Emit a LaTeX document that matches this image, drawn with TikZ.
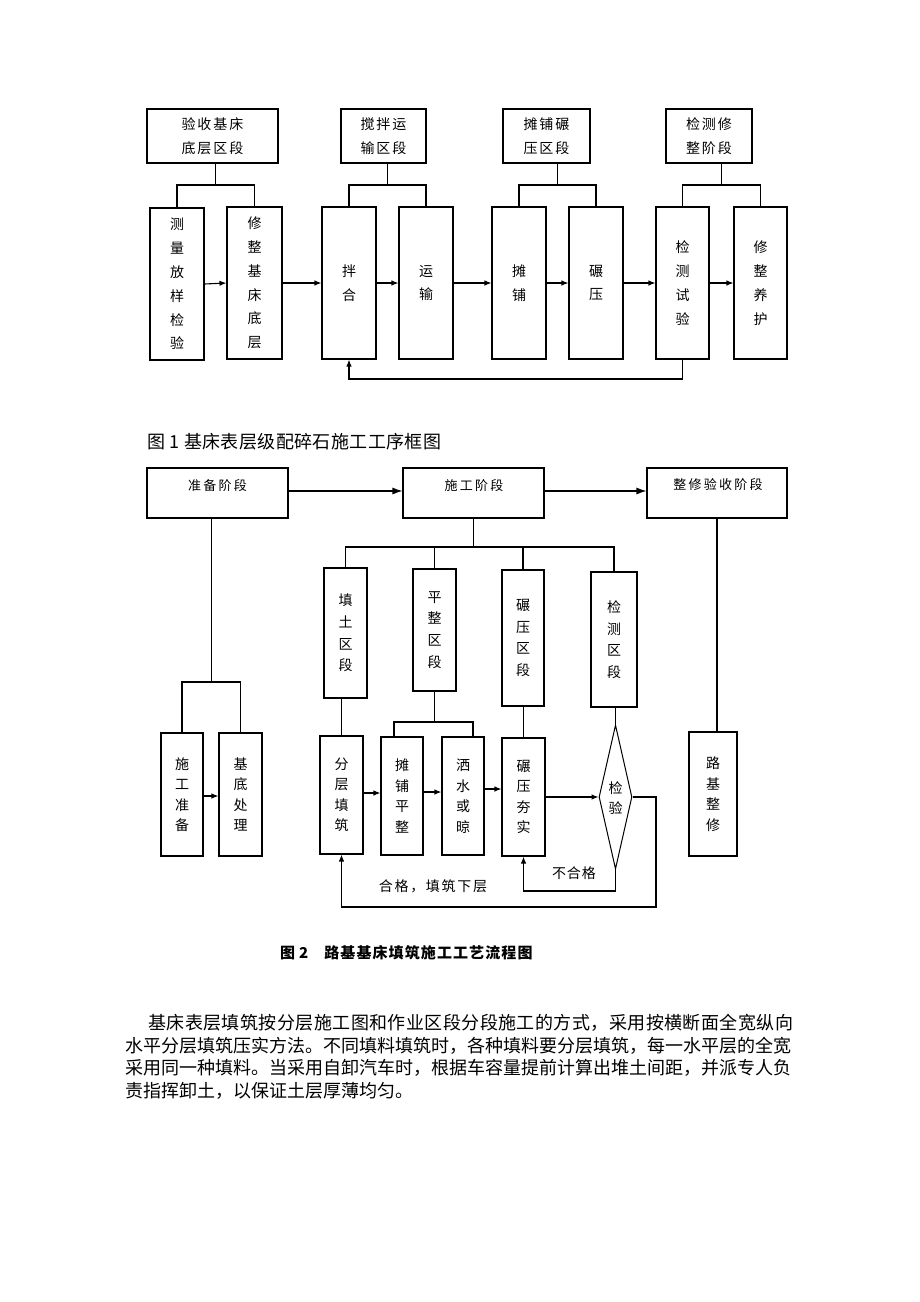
\documentclass[tikz,border=0pt]{standalone}
\usepackage{fontspec}
\setmainfont{Noto Sans CJK SC}
\usetikzlibrary{arrows.meta,calc,shapes.geometric}
\makeatletter
\newcommand\lsp[2]{\def\lsp@s{#1}\lsp@loop#2\@nil}
\def\lsp@loop#1#2\@nil{#1\ifx\relax#2\relax\else\hspace{\lsp@s}\lsp@loop#2\@nil\fi}
\makeatother
\begin{document}
\begin{tikzpicture}[x=1pt,y=-1pt,
  box/.style={draw, line width=1.1pt, inner sep=0pt, rectangle},
  ln/.style={line width=1.1pt},
  arr/.style={line width=1.1pt, -{Latex[length=7pt,width=5.5pt]}},
  arrL/.style={line width=1.1pt, -{Latex[length=10pt,width=7pt]}},
  tA/.style={font=\fontsize{14}{23.8}\selectfont, align=center},
  tE/.style={font=\fontsize{14}{21.7}\selectfont, align=center},
  tF/.style={font=\fontsize{14}{20.5}\selectfont, align=center},
  tH/.style={font=\fontsize{13}{20}\selectfont, inner sep=0pt},
  tL/.style={font=\fontsize{14}{18}\selectfont, inner sep=0pt},
  para/.style={font=\fontsize{18}{22}\selectfont, inner sep=0pt, anchor=west}]
\useasboundingbox (0,0) rectangle (920,1302);
\fill[white] (0,0) rectangle (920,1302);

% ---------------- Figure 1 ----------------
\node[box, tA, minimum width=131, minimum height=54] (A1) at (212.5,136) {\lsp{2pt}{验收基床}\\\lsp{2pt}{底层区段}};
\node[box, tA, minimum width=85, minimum height=54] (A2) at (383.5,136) {\lsp{2pt}{搅拌运}\\\lsp{2pt}{输区段}};
\node[box, tA, minimum width=87, minimum height=54] (A3) at (546.5,136) {\lsp{2pt}{摊铺碾}\\\lsp{2pt}{压区段}};
\node[box, tA, minimum width=86, minimum height=54] (A4) at (709,136) {\lsp{2pt}{检测修}\\\lsp{2pt}{整阶段}};

\node[box, tA, minimum width=54, minimum height=152] (B1) at (177,284) {测\\量\\放\\样\\检\\验};
\node[box, tA, minimum width=55, minimum height=152] (B2) at (254.5,283) {修\\整\\基\\床\\底\\层};
\node[box, tA, minimum width=54, minimum height=152] (B3) at (349,283) {拌\\合};
\node[box, tA, minimum width=54, minimum height=152] (B4) at (426,283) {运\\输};
\node[box, tA, minimum width=54, minimum height=152] (B5) at (519,283) {摊\\铺};
\node[box, tA, minimum width=54, minimum height=152] (B6) at (596,283) {碾\\压};
\node[box, tA, minimum width=53, minimum height=152] (B7) at (682.5,283) {检\\测\\试\\验};
\node[box, tA, minimum width=53, minimum height=152] (B8) at (760.5,283) {修\\整\\养\\护};

\foreach \p/\a/\b in {A1/B1/B2, A2/B3/B4, A3/B5/B6, A4/B7/B8}{
  \coordinate (m\p) at ($(\a.north)!0.5!(\b.north)$);
  \draw[ln] (m\p |- \p.south) -- (m\p |- 0,185);
  \draw[ln] (\a.north) -- (\a.north |- 0,185) -- (\b.north |- 0,185) -- (\b.north);
}
\foreach \a/\b in {B1/B2, B2/B3, B3/B4, B4/B5, B5/B6, B6/B7, B7/B8}{
  \draw[arr] (\a.east) -- (\b.west);
}
\draw[arr] (B7.south) -- (B7.south |- 0,379) -- (B3.south |- 0,379) -- (B3.south);

\node[font=\fontsize{18}{22}\selectfont, inner sep=0pt, anchor=west] (cap1) at (147,442)
  {图\hspace{4pt}1\hspace{5pt}\lsp{0.4pt}{基床表层级配碎石施工工序框图}};

% ---------------- Figure 2 ----------------
\node[box, minimum width=141, minimum height=50] (C1) at (217.5,493) {};
\node[box, minimum width=141, minimum height=50] (C2) at (473.5,493) {};
\node[box, minimum width=140, minimum height=50] (C3) at (717,493) {};
\node[tH] (C1t) at (217.5,486) {\lsp{2.3pt}{准备阶段}};
\node[tH] (C2t) at (474,486) {\lsp{2.3pt}{施工阶段}};
\node[tH] (C3t) at (718,485) {\lsp{2.3pt}{整修验收阶段}};
\draw[arrL] (C1.east |- 0,491) -- (C2.west |- 0,491);
\draw[arrL] (C2.east |- 0,491) -- (C3.west |- 0,491);

\node[box, tF, minimum width=42, minimum height=123] (D1) at (182,794.5) {施\\工\\准\\备};
\node[box, tF, minimum width=43, minimum height=123] (D2) at (240.5,794.5) {基\\底\\处\\理};
\coordinate (mC1) at ($(D1.north)!0.5!(D2.north)$);
\draw[ln] (mC1 |- C1.south) -- (mC1 |- 0,682);
\draw[ln] (D1.north) -- (D1.north |- 0,682) -- (D2.north |- 0,682) -- (D2.north);
\draw[arr] (D1.east |- 0,796) -- (D2.west |- 0,796);

\node[box, tE, minimum width=43, minimum height=130] (E1) at (345.5,633) {填\\土\\区\\段};
\node[box, tE, minimum width=43, minimum height=122] (E2) at (434.5,630) {平\\整\\区\\段};
\node[box, tE, minimum width=42, minimum height=136] (E3) at (523,638) {碾\\压\\区\\段};
\node[box, tE, minimum width=46, minimum height=135] (E4) at (614,639.5) {检\\测\\区\\段};
\draw[ln] (C2.south) -- (C2.south |- 0,547);
\draw[ln] (E1.north) -- (E1.north |- 0,547) -- (E4.north |- 0,547) -- (E4.north);
\draw[ln] (E2.north) -- (E2.north |- 0,547);
\draw[ln] (E3.north) -- (E3.north |- 0,547);

\node[box, tF, minimum width=43, minimum height=118] (F1) at (341.5,795) {分\\层\\填\\筑};
\node[box, tF, minimum width=42, minimum height=118] (F2) at (402,796) {摊\\铺\\平\\整};
\node[box, tF, minimum width=42, minimum height=118] (F3) at (463,796) {洒\\水\\或\\晾};
\node[box, tF, minimum width=43, minimum height=118] (F4) at (523.5,797) {碾\\压\\夯\\实};
\node[draw, line width=1pt, diamond, minimum width=33, minimum height=144, inner sep=0pt] (G) at (615.5,797) {};
\node[tF] (Gt) at (615.5,798) {检\\验};
\node[box, tF, minimum width=48, minimum height=124] (H) at (713,794) {路\\基\\整\\修};

\draw[ln] (F1.north) -- (F1.north |- E1.south);
\coordinate (pL) at ([xshift=-8]F2.north);
\coordinate (pR) at ([xshift=10]F3.north);
\draw[ln] (E2.south) -- (E2.south |- 0,722);
\draw[ln] (pL) -- (pL |- 0,722) -- (pR |- 0,722) -- (pR);
\draw[ln] (F4.north) -- (F4.north |- E3.south);
\draw[ln] (G.north) -- (G.north |- E4.south);
\draw[ln] (C3.south) -- (C3.south |- H.north);

\draw[arr] (F1.east |- 0,793) -- (F2.west |- 0,793);
\draw[arr] (F2.east |- 0,792) -- (F3.west |- 0,792);
\draw[arr] (F3.east |- 0,789) -- (F4.west |- 0,789);
\draw[arr] (F4.east |- G.west) -- (G.west);
\coordinate (fb) at (656,907);
\draw[arr] (G.east) -- (G.east -| fb) -- (fb) -- (fb -| F1.south) -- (F1.south);
\draw[arr] (G.south) -- (G.south |- 0,891) -- (F4.south |- 0,891) -- (F4.south);

\node[tL] (lbl1) at (574,873) {\lsp{1pt}{不合格}};
\node[tL] (lbl2) at (433,886) {\lsp{1.7pt}{合格，填筑下层}};

\node[font=\fontsize{15}{18}\selectfont\bfseries, inner sep=0pt, anchor=west] (cap2) at (280,953)
  {图\hspace{4pt}2\hspace{16pt}\lsp{1.1pt}{路基基床填筑施工工艺流程图}};

% ---------------- Paragraph ----------------
\node[para] (p1) at (148,1023) {\lsp{0.44pt}{基床表层填筑按分层施工图和作业区段分段施工的方式，采用按横断面全宽纵向}};
\node[para] (p2) at (125,1045.5) {水平分层填筑压实方法。不同填料填筑时，各种填料要分层填筑，每一水平层的全宽};
\node[para] (p3) at (125,1068) {采用同一种填料。当采用自卸汽车时，根据车容量提前计算出堆土间距，并派专人负};
\node[para] (p4) at (125,1090.5) {责指挥卸土，以保证土层厚薄均匀。};
\end{tikzpicture}
\end{document}
